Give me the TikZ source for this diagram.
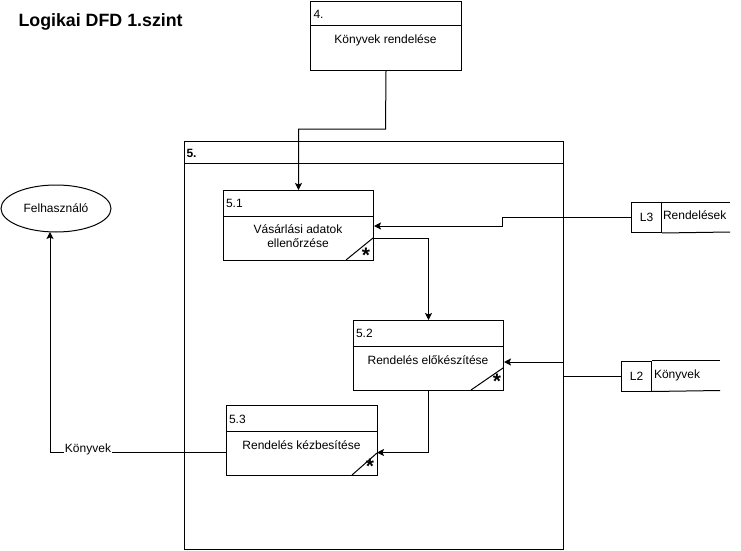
\documentclass[tikz,border=0pt]{standalone}
\usepackage{fontspec}
\setmainfont{Liberation Sans}
\usetikzlibrary{arrows.meta,shapes.geometric}
\begin{document}
\begin{tikzpicture}[x=1pt,y=-1pt,line width=1pt,
  txt/.style={font=\fontsize{12}{14}\selectfont,inner sep=0pt},
  procbox/.style={draw,minimum width=#1,minimum height=70,anchor=north west,inner sep=0pt},
  storecell/.style={draw,minimum width=30,minimum height=30,anchor=north west,inner sep=0pt,font=\fontsize{12}{14}\selectfont},
  flow/.style={draw,-{Stealth[length=7pt,width=7pt,inset=1.5pt]}},
  startag/.style={font=\fontsize{21}{21}\selectfont\bfseries,inner sep=0pt}]
\useasboundingbox (0,0) rectangle (741,551);

% title
\node[anchor=west,inner sep=0pt,font=\fontsize{17.8}{20}\selectfont\bfseries] (title) at (18,22) {Logikai DFD 1.szint};

% upper-level process 4
\node[procbox=151,minimum height=69] (p4) at (310,1) {};
\draw (310,26) -- (461,26);
\node[txt,anchor=west] (p4id) at (313,14) {4.};
\node[txt] (p4name) at (385.5,40) {Könyvek rendelése};

% process group 5
\node[draw,minimum width=379,minimum height=408,anchor=north west,inner sep=0pt] (p5) at (184,141) {};
\draw (184,163) -- (563,163);
\node[txt,anchor=west,font=\fontsize{12}{14}\selectfont\bfseries] (p5id) at (186,153) {5.};

% process 5.1
\node[procbox=150] (p51) at (223,190) {};
\draw (223,216.5) -- (373,216.5);
\draw (346,260) -- (373,238);
\node[txt,anchor=west] (p51id) at (225.5,203.5) {5.1};
\node[txt,align=center] (p51name) at (298,236) {Vásárlási adatok\\ellenőrzése};
\node[startag] (p51s) at (366,255) {*};

% process 5.2
\node[procbox=150] (p52) at (353,320) {};
\draw (353,346.5) -- (503,346.5);
\draw (471,390) -- (503,368);
\node[txt,anchor=west] (p52id) at (355.5,333.5) {5.2};
\node[txt] (p52name) at (428,360) {Rendelés előkészítése};
\node[startag] (p52s) at (497,381) {*};

% process 5.3
\node[procbox=151] (p53) at (226,405) {};
\draw (226,431.5) -- (377,431.5);
\draw (352,475) -- (377,453);
\node[txt,anchor=west] (p53id) at (228.5,419) {5.3};
\node[txt] (p53name) at (301.5,445) {Rendelés kézbesítése};
\node[startag] (p53s) at (370,466) {*};

% external entity
\node[draw,ellipse,minimum width=110,minimum height=47,inner sep=0pt,txt] (user) at (56,208.5) {Felhasználó};

% data store L3
\node[storecell] (l3) at (631,202) {L3};
\draw (l3.north east) -- (730,202);
\draw (l3.south east) -- (730,232);
\node[txt,anchor=west] (l3name) at (662.5,215.5) {Rendelések};

% data store L2
\node[storecell] (l2) at (621,360.5) {L2};
\draw (l2.north east) -- (720,360.5);
\draw (l2.south east) -- (720,390.5);
\node[txt,anchor=west] (l2name) at (653.5,375) {Könyvek};

% bend points
\coordinate (c4) at (385.5,129);
\coordinate (c3) at (502,226);
\coordinate (c2) at (563,362);
\coordinate (c51) at (373,238);
\coordinate (c53) at (377,452.5);
\coordinate (cu) at (50,452.5);
\coordinate (cut) at (50,232);

% flows
\draw[flow] (p4.south) -- (c4) -| (p51.north);
\draw[flow] (l3.west) -| (c3) -- (c3 -| p51.east);
\draw[flow] (c51) -| (p52.north);
\draw[flow] (l2.west) -| (c2) -- (c2 -| p52.east);
\draw[flow] (p52.south) |- (c53);
\draw[flow] (c53 -| p53.west) -- (cu) -- (cut);
\node[txt,fill=white,inner xsep=1pt,inner ysep=1pt] (lblk) at (88,449) {Könyvek};
\end{tikzpicture}
\end{document}
